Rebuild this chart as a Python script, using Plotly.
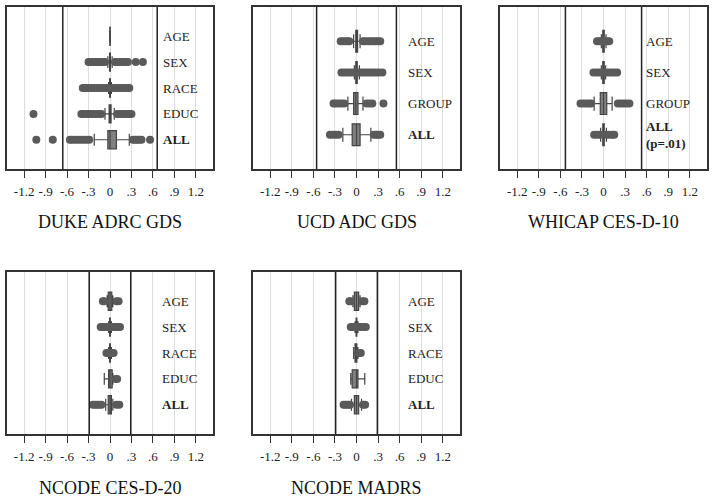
import plotly.graph_objects as go

# rows listed top to bottom for every panel
duke_rows = ["AGE", "SEX", "RACE", "EDUC", "ALL"]
duke_q1 = [-0.003, -0.006, -0.006, -0.012, -0.03]
duke_med = [0.0, 0.0, 0.0, 0.0, 0.0]
duke_q3 = [0.003, 0.006, 0.006, 0.015, 0.09]
duke_lo = [-0.005, -0.03, -0.02, -0.07, -0.22]
duke_hi = [0.005, 0.03, 0.02, 0.06, 0.27]
duke_out = [
    [],
    [-0.30, -0.27, -0.24, -0.21, -0.18, -0.15, -0.12, -0.09, -0.07,
     0.07, 0.10, 0.13, 0.16, 0.19, 0.22, 0.25, 0.36, 0.46],
    [-0.38, -0.35, -0.31, -0.28, -0.24, -0.21, -0.17, -0.14, -0.10, -0.07, -0.04,
     0.04, 0.07, 0.10, 0.14, 0.17, 0.21, 0.24, 0.27],
    [-1.07, -0.40, -0.37, -0.33, -0.30, -0.26, -0.22, -0.19, -0.15, -0.12,
     0.10, 0.13, 0.17, 0.20, 0.24, 0.27, 0.30],
    [-1.03, -0.80, -0.56, -0.53, -0.49, -0.45, -0.41, -0.37, -0.33, -0.29,
     0.32, 0.35, 0.38, 0.41, 0.44, 0.56],
]

ucd_rows = ["AGE", "SEX", "GROUP", "ALL"]
ucd_q1 = [-0.01, -0.01, -0.04, -0.06]
ucd_med = [0.0, 0.0, -0.01, 0.0]
ucd_q3 = [0.015, 0.01, 0.02, 0.05]
ucd_lo = [-0.04, -0.03, -0.12, -0.19]
ucd_hi = [0.05, 0.04, 0.09, 0.20]
ucd_out = [
    [-0.22, -0.19, -0.16, -0.13, -0.10, 0.09, 0.12, 0.16, 0.19, 0.23, 0.26, 0.30, 0.33],
    [-0.21, -0.17, -0.13, -0.09, -0.05, -0.01, 0.03, 0.07, 0.11, 0.15, 0.19, 0.23,
     0.27, 0.31, 0.36],
    [-0.32, -0.29, -0.25, -0.21, -0.17, 0.14, 0.18, 0.22, 0.375],
    [-0.37, -0.33, -0.29, -0.25, 0.24, 0.27, 0.30, 0.33],
]

whicap_rows = ["AGE", "SEX", "GROUP", "ALL<br>(p=.01)"]
whicap_q1 = [-0.01, -0.01, -0.045, -0.01]
whicap_med = [0.0, 0.0, 0.0, 0.0]
whicap_q3 = [0.01, 0.01, 0.045, 0.01]
whicap_lo = [-0.03, -0.03, -0.13, -0.04]
whicap_hi = [0.035, 0.03, 0.12, 0.04]
whicap_out = [
    [-0.09, -0.06, -0.03, 0.02, 0.05, 0.08],
    [-0.14, -0.10, -0.06, -0.02, 0.03, 0.07, 0.11, 0.15, 0.19],
    [-0.32, -0.28, -0.24, -0.20, -0.17, 0.20, 0.24, 0.28, 0.32, 0.36],
    [-0.13, -0.09, -0.05, 0.04, 0.08, 0.12, 0.15],
]

cesd_rows = ["AGE", "SEX", "RACE", "EDUC", "ALL"]
cesd_q1 = [-0.025, -0.005, -0.005, -0.02, -0.025]
cesd_med = [0.0, 0.0, 0.0, 0.0, 0.0]
cesd_q3 = [0.025, 0.005, 0.005, 0.03, 0.02]
cesd_lo = [-0.04, -0.02, -0.02, -0.08, -0.06]
cesd_hi = [0.04, 0.02, 0.02, 0.04, 0.04]
cesd_out = [
    [-0.10, -0.08, 0.09, 0.12],
    [-0.13, -0.10, -0.07, -0.04, -0.01, 0.02, 0.05, 0.08, 0.11, 0.14],
    [-0.05, -0.02, 0.02, 0.05],
    [0.08, 0.10],
    [-0.24, -0.21, -0.18, -0.15, -0.12, 0.09, 0.13],
]

madrs_rows = ["AGE", "SEX", "RACE", "EDUC", "ALL"]
madrs_q1 = [-0.03, -0.005, -0.02, -0.06, -0.03]
madrs_med = [0.0, 0.0, -0.005, 0.0, 0.0]
madrs_q3 = [0.03, 0.005, 0.005, 0.02, 0.03]
madrs_lo = [-0.05, -0.02, -0.04, -0.08, -0.07]
madrs_hi = [0.05, 0.02, 0.02, 0.115, 0.07]
madrs_out = [
    [-0.10, -0.08, 0.08, 0.11],
    [-0.08, -0.05, -0.02, 0.01, 0.04, 0.07, 0.10, 0.13],
    [0.04, 0.06],
    [],
    [-0.18, -0.15, -0.12, -0.09, 0.09, 0.12],
]

panels = [
    ("DUKE ADRC GDS", duke_rows, duke_q1, duke_med, duke_q3, duke_lo, duke_hi, duke_out, 0.66),
    ("UCD ADC GDS", ucd_rows, ucd_q1, ucd_med, ucd_q3, ucd_lo, ucd_hi, ucd_out, 0.555),
    ("WHICAP CES-D-10", whicap_rows, whicap_q1, whicap_med, whicap_q3, whicap_lo, whicap_hi, whicap_out, 0.53),
    ("NCODE CES-D-20", cesd_rows, cesd_q1, cesd_med, cesd_q3, cesd_lo, cesd_hi, cesd_out, 0.29),
    ("NCODE MADRS", madrs_rows, madrs_q1, madrs_med, madrs_q3, madrs_lo, madrs_hi, madrs_out, 0.29),
]

tick_vals = [-1.2, -0.9, -0.6, -0.3, 0, 0.3, 0.6, 0.9, 1.2]
tick_text = ["-1.2", "-.9", "-.6", "-.3", "0", ".3", ".6", ".9", "1.2"]

W, H = 714, 502
# pixel boxes of each panel: (left, right, top, bottom)
boxes = [(7, 213, 7, 169), (253, 460, 7, 169), (500, 707, 7, 169),
         (7, 213, 272, 434), (253, 460, 272, 434)]
label_x = [0.71, 0.69, 0.56, 0.70, 0.69]
title_y = [222, 222, 222, 488, 488]

SERIF = "Liberation Serif"
DARK = "#333333"

fig = go.Figure()
layout = {}
annotations = []
shapes = []

for i, (title, rows, q1, med, q3, lo, hi, out, ref) in enumerate(panels):
    n = i + 1
    xa = "x" if n == 1 else f"x{n}"
    ya = "y" if n == 1 else f"y{n}"
    ypos = [len(rows) - 1 - k for k in range(len(rows))]

    fig.add_trace(go.Box(
        q1=q1, median=med, q3=q3, lowerfence=lo, upperfence=hi,
        y=ypos, orientation="h", width=0.7, whiskerwidth=0.65,
        fillcolor="#808080", line=dict(color="#444444", width=1.2),
        boxpoints=False, xaxis=xa, yaxis=ya, showlegend=False,
    ))

    ox, oy = [], []
    for k, vals in enumerate(out):
        ox += vals
        oy += [ypos[k]] * len(vals)
    fig.add_trace(go.Scatter(
        x=ox, y=oy, mode="markers",
        marker=dict(size=8, color="#5a5a5a", line=dict(width=0)),
        xaxis=xa, yaxis=ya, showlegend=False,
    ))

    l, r, t, b = boxes[i]
    pad = 1.13 if len(rows) == 5 else 1.1
    layout["xaxis" if n == 1 else f"xaxis{n}"] = dict(
        domain=[l / W, r / W], anchor=ya, range=[-1.44, 1.44],
        tickvals=tick_vals, ticktext=tick_text, ticks="outside", ticklen=7,
        tickcolor=DARK, tickwidth=1.2, ticklabelstandoff=3,
        showgrid=True, gridcolor="#dedede", gridwidth=1, zeroline=False,
        showline=True, linecolor=DARK, linewidth=1.5, mirror=True,
        tickfont=dict(family=SERIF, size=13, color="#222222"),
    )
    layout["yaxis" if n == 1 else f"yaxis{n}"] = dict(
        domain=[1 - b / H, 1 - t / H], anchor=xa,
        range=[-pad, len(rows) - 1 + pad], showticklabels=False, ticks="",
        showgrid=False, zeroline=False,
        showline=True, linecolor=DARK, linewidth=1.5, mirror=True,
    )

    for sx in (-ref, ref):
        shapes.append(dict(type="line", xref=xa, yref=f"{ya} domain",
                           x0=sx, x1=sx, y0=0, y1=1,
                           line=dict(color="#222222", width=1.5)))

    for k, name in enumerate(rows):
        txt = f"<b>{name}</b>" if name.startswith("ALL") else name
        annotations.append(dict(
            x=label_x[i], y=ypos[k], xref=xa, yref=ya, text=txt,
            showarrow=False, xanchor="left", yanchor="middle", align="left",
            font=dict(family=SERIF, size=13, color="#222222"),
        ))

    annotations.append(dict(
        x=(l + r) / 2 / W, y=1 - title_y[i] / H, xref="paper", yref="paper",
        text=title, showarrow=False, xanchor="center", yanchor="middle",
        font=dict(family=SERIF, size=18, color="#111111"),
    ))

fig.update_layout(
    width=W, height=H,
    margin=dict(l=0, r=0, t=0, b=0),
    paper_bgcolor="white", plot_bgcolor="white",
    annotations=annotations, shapes=shapes,
    **layout,
)

# the page's default body margin would push the figure 8px off the window
fig.write_html("out.html", config={"displayModeBar": False},
               post_script="document.body.style.margin='0';document.body.style.overflow='hidden';")
